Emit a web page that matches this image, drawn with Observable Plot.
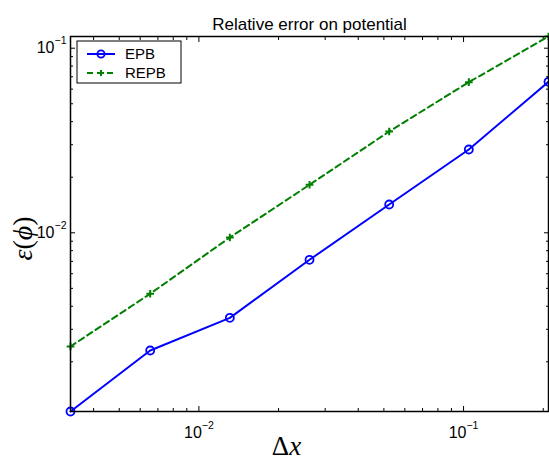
<!DOCTYPE html>
<html><head><meta charset="utf-8">
<script src="https://cdn.jsdelivr.net/npm/d3@7"></script>
<script src="https://cdn.jsdelivr.net/npm/@observablehq/plot@0.6"></script>
<style>
body{margin:0;background:#fff}
#chart{position:relative;width:549px;height:461px}
</style>
</head><body><div id="chart"></div>
<script>
// ---- data ----
const dx   = [0.003272, 0.006545, 0.01309, 0.02618, 0.05236, 0.1047, 0.2094];
const epb  = [0.001076, 0.002303, 0.003462, 0.007141, 0.01423, 0.02826, 0.06577];
const repb = [0.002421, 0.004675, 0.00943, 0.0182, 0.03538, 0.06547, 0.1157];
const seriesNames = ["EPB", "REPB"];
const seriesColors = ["#0000ff", "#008000"];
const xMajor = [0.01, 0.1];
const yMajor = [0.01, 0.1];
const xTickLabels = ["10^\u22122", "10^\u22121"];
const yTickLabels = ["10^\u22122", "10^\u22121"];
const title = "Relative error on potential";
const xLabel = "\u0394x";
const yLabel = "\u03b5(\u03d5)";

const rows = dx.map((x, i) => ({x, epb: epb[i], repb: repb[i]}));
const xDomain = d3.extent(dx);
const yDomain = [d3.min(epb), d3.max(repb)];
const isDecade = t => Math.abs(Math.log10(t) - Math.round(Math.log10(t))) < 1e-9;
const xMinor = d3.scaleLog().domain(xDomain).ticks().filter(t => !isDecade(t));
const yMinor = d3.scaleLog().domain(yDomain).ticks().filter(t => !isDecade(t));
const blank = () => "";
const sans = "'Liberation Sans', Arial, Helvetica, sans-serif";
const serif = "'Liberation Serif', 'DejaVu Serif', 'Times New Roman', serif";

const plot = Plot.plot({
  width: 549, height: 461,
  marginLeft: 70, marginRight: 1, marginTop: 36, marginBottom: 50,
  style: {fontFamily: sans, fontSize: "16px", color: "black", background: "white", overflow: "visible"},
  x: {type: "log", domain: xDomain},
  y: {type: "log", domain: yDomain},
  marks: [
    // inward ticks on all four sides
    Plot.axisX(xMajor, {anchor: "bottom", tickSize: -5, tickFormat: blank, label: null}),
    Plot.axisX(xMajor, {anchor: "top", tickSize: -5, tickFormat: blank, label: null}),
    Plot.axisX(xMinor, {anchor: "bottom", tickSize: -3, tickFormat: blank, label: null}),
    Plot.axisX(xMinor, {anchor: "top", tickSize: -3, tickFormat: blank, label: null}),
    Plot.axisY(yMajor, {anchor: "left", tickSize: -5, tickFormat: blank, label: null}),
    Plot.axisY(yMajor, {anchor: "right", tickSize: -5, tickFormat: blank, label: null}),
    Plot.axisY(yMinor, {anchor: "left", tickSize: -3, tickFormat: blank, label: null}),
    Plot.axisY(yMinor, {anchor: "right", tickSize: -3, tickFormat: blank, label: null}),
    // tick labels
    Plot.axisX(xMajor, {anchor: "bottom", tickSize: 0, tickPadding: 15, label: null,
      tickFormat: d => xTickLabels[xMajor.indexOf(d)]}),
    Plot.axisY(yMajor, {anchor: "left", tickSize: 0, tickPadding: 4, label: null,
      tickFormat: d => yTickLabels[yMajor.indexOf(d)]}),
    // data
    Plot.line(rows, {x: "x", y: "epb", stroke: seriesColors[0], strokeWidth: 2}),
    Plot.dot(rows, {x: "x", y: "epb", r: 4, stroke: seriesColors[0], strokeWidth: 1.8, fill: "none"}),
    Plot.line(rows, {x: "x", y: "repb", stroke: seriesColors[1], strokeWidth: 2, strokeDasharray: "6,4"}),
    Plot.dot(rows, {x: "x", y: "repb", symbol: "plus", r: 2.6, stroke: seriesColors[1], strokeWidth: 2}),
    Plot.frame({stroke: "black", strokeWidth: 1.5}),
    // titles
    Plot.text([title], {text: d => d, frameAnchor: "top", dy: -19, fontSize: 17, fontFamily: sans}),
    Plot.text([xLabel], {text: d => d, frameAnchor: "bottom", dy: 36, dx: -22, fontSize: 27, fontFamily: serif}),
    Plot.text([yLabel], {text: d => d, frameAnchor: "left", dx: -48, rotate: -90, fontSize: 28, fontFamily: serif})
  ]
});

const svg = d3.select(plot);
let xlNode = null, ylNode = null;
svg.selectAll("text").each(function() {
  const t = this.textContent;
  const m = /^10\^(.+)$/.exec(t);
  const el = d3.select(this);
  if (m) {
    el.text("10");
    el.append("tspan").attr("dy", -9).attr("font-size", "10.5px").text(m[1]);
  } else if (t === xLabel) {
    el.text("");
    el.append("tspan").text("\u0394");
    el.append("tspan").attr("font-style", "italic").text("x");
    xlNode = this;
  } else if (t === yLabel) {
    el.text("");
    el.append("tspan").attr("font-style", "italic").text("\u03b5");
    el.append("tspan").text("(");
    el.append("tspan").attr("font-style", "italic").text("\u03d5");
    el.append("tspan").text(")");
    ylNode = this;
  }
});

// legend box (top-left inside the axes)
const lg = svg.append("g").attr("transform", "translate(77,41)");
lg.append("rect").attr("width", 104).attr("height", 42).attr("fill", "white").attr("stroke", "black").attr("stroke-width", 1);
seriesNames.forEach((name, i) => {
  const y = 13 + i * 19;
  const g = lg.append("g").attr("transform", `translate(0,${y})`);
  g.append("line").attr("x1", 10).attr("x2", 38).attr("y1", 0).attr("y2", 0)
    .attr("stroke", seriesColors[i]).attr("stroke-width", 2)
    .attr("stroke-dasharray", i === 1 ? "6,4" : null);
  if (i === 0) {
    g.append("circle").attr("cx", 24).attr("cy", 0).attr("r", 3.6).attr("fill", "none")
      .attr("stroke", seriesColors[i]).attr("stroke-width", 1.8);
  } else {
    g.append("path").attr("d", "M21,0H27M24,-3V3").attr("stroke", seriesColors[i]).attr("stroke-width", 2);
  }
  g.append("text").attr("x", 48).attr("y", 0).attr("dy", "0.35em").attr("text-anchor", "start")
    .style("font-size", "15px").style("font-family", sans).text(name);
});

document.getElementById("chart").appendChild(plot);

// fine placement of the axis titles (TeX-like offsets in the reference)
function centerAt(node, cx, cy) {
  if (!node) return;
  const r = node.getBoundingClientRect();
  const ddx = cx - (r.left + r.right) / 2, ddy = cy - (r.top + r.bottom) / 2;
  node.setAttribute("transform", `translate(${ddx},${ddy}) ${node.getAttribute("transform") || ""}`);
}
centerAt(xlNode, 286.5, 445.5);
centerAt(ylNode, 22, 238.5);
</script>
</body></html>
